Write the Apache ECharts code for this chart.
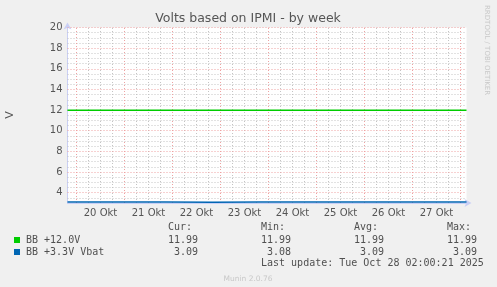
<!DOCTYPE html>
<html><head><meta charset="utf-8">
<script src="https://cdn.jsdelivr.net/npm/echarts@6/dist/echarts.min.js"></script>
<style>html,body{margin:0;padding:0;background:#f0f0f0}#c{width:497px;height:287px}</style>
</head><body><div id="c"></div>
<script>
// ---- data ----
const chartTitle = 'Volts based on IPMI - by week';
const yAxisName = 'V';
const dayLabels = ['20 Okt', '21 Okt', '22 Okt', '23 Okt', '24 Okt', '25 Okt', '26 Okt', '27 Okt'];
const yTickLabels = [4, 6, 8, 10, 12, 14, 16, 18, 20];
// hours since 20 Okt 00:00
const hours = [-4.5, 20, 44, 68, 92, 116, 140, 164, 188, 195];
const bb12 = [11.99, 11.99, 11.99, 11.99, 11.99, 11.99, 11.99, 11.99, 11.99, 11.99];
const bb33 = [3.09, 3.09, 3.09, 3.08, 3.09, 3.09, 3.09, 3.09, 3.09, 3.09];
const seriesNames = ['BB +12.0V', 'BB +3.3V Vbat'];
const colHeaders = ['Cur:', 'Min:', 'Avg:', 'Max:'];
const curVals = ['11.99', ' 3.09'];
const minVals = ['11.99', ' 3.08'];
const avgVals = ['11.99', ' 3.09'];
const maxVals = ['11.99', ' 3.09'];
const lastUpdate = 'Last update: Tue Oct 28 02:00:21 2025';
const sideText = 'RRDTOOL / TOBI OETIKER';
const footer = 'Munin 2.0.76';

// ---- styles ----
const colors = ['#00cc00', '#0066b3'];
const RED = '#eea2a2', GREY = '#c4c4c4';
const AX = '#c9cff5';
const mono = '"DejaVu Sans Mono", monospace';
const sans = '"DejaVu Sans", sans-serif';
const X_MIN = -4.5, X_MAX = 195, Y_MIN = 3, Y_MAX = 20;
const DASH = [1, 2];

// grid lines (drawn through the axes' scales via markLine)
const gridMarks = [];
for (let h = 0; h <= X_MAX; h += 6) {
  if (h % 24 !== 0) gridMarks.push({xAxis: h, lineStyle: {color: GREY, type: DASH, width: 1}});
}
for (let v = 3.5; v <= Y_MAX; v += 0.5) {
  if (v % 2 !== 0) gridMarks.push({yAxis: v, lineStyle: {color: GREY, type: DASH, width: 1}});
}
const majorMarks = [];
for (let h = 0; h <= X_MAX; h += 24) majorMarks.push({xAxis: h, lineStyle: {color: RED, type: DASH, width: 1}});
for (let v = 4; v <= Y_MAX; v += 2) majorMarks.push({yAxis: v, lineStyle: {color: RED, type: DASH, width: 1}});

const chart = echarts.init(document.getElementById('c'), null, {renderer: 'canvas'});

const graphics = [];
graphics.push({type: 'text', x: 248, y: 19, style: {text: chartTitle, font: '12.5px ' + sans, fill: '#555', align: 'center', verticalAlign: 'middle'}});
graphics.push({type: 'text', x: 10, y: 115, rotation: Math.PI / 2, style: {text: yAxisName, font: '11px ' + sans, fill: '#555', align: 'center', verticalAlign: 'middle'}});
graphics.push({type: 'text', x: 487, y: 5, rotation: -Math.PI / 2, style: {text: sideText, font: '7px ' + sans, fill: '#c8c8c8', align: 'left', verticalAlign: 'middle'}});
graphics.push({type: 'text', x: 248, y: 279, style: {text: footer, font: '7.5px ' + sans, fill: '#c8c8c8', align: 'center', verticalAlign: 'middle'}});

const colX = [168, 261, 354, 447];
const rowY = [240, 252];
colHeaders.forEach((h, i) => graphics.push({type: 'text', x: colX[i], y: 227, style: {text: h, font: '10px ' + mono, fill: '#505050', align: 'left', verticalAlign: 'middle'}}));
seriesNames.forEach((n, r) => {
  graphics.push({type: 'rect', shape: {x: 14, y: rowY[r] - 3, width: 6, height: 6}, style: {fill: colors[r]}});
  graphics.push({type: 'text', x: 26, y: rowY[r], style: {text: n, font: '10px ' + mono, fill: '#505050', align: 'left', verticalAlign: 'middle'}});
  [curVals, minVals, avgVals, maxVals].forEach((arr, c) => {
    graphics.push({type: 'text', x: colX[c], y: rowY[r], style: {text: arr[r], font: '10px ' + mono, fill: '#505050', align: 'left', verticalAlign: 'middle'}});
  });
});
graphics.push({type: 'text', x: 261, y: 263.5, style: {text: lastUpdate, font: '10px ' + mono, fill: '#505050', align: 'left', verticalAlign: 'middle'}});

chart.setOption({
  backgroundColor: '#f0f0f0',
  animation: false,
  grid: {left: 67.5, right: 30.5, top: 27.5, bottom: 84, show: true, backgroundColor: '#ffffff', borderWidth: 0},
  xAxis: {
    type: 'value', min: X_MIN, max: X_MAX, interval: 1.5,
    axisLine: {show: true, onZero: false, lineStyle: {color: AX, width: 1}, symbol: ['none', 'arrow'], symbolSize: [6, 7], symbolOffset: [0, 5]},
    axisTick: {show: false},
    axisLabel: {
      show: true, interval: 0, margin: 5, color: '#555', fontSize: 10, fontFamily: 'DejaVu Sans',
      formatter: v => { const h = v - 12; if (h >= 0 && h % 24 === 0 && dayLabels[h / 24]) return dayLabels[h / 24]; return ''; }
    },
    splitLine: {show: false}
  },
  yAxis: {
    type: 'value', min: Y_MIN, max: Y_MAX, interval: 0.5,
    axisLine: {show: true, onZero: false, lineStyle: {color: AX, width: 1}, symbol: ['none', 'arrow'], symbolSize: [6, 7], symbolOffset: [0, 5]},
    axisTick: {show: false},
    axisLabel: {
      show: true, margin: 5, color: '#555', fontSize: 10, fontFamily: 'DejaVu Sans',
      formatter: v => yTickLabels.indexOf(v) >= 0 ? String(v) : ''
    },
    splitLine: {show: false}
  },
  series: [
    {type: 'line', name: 'grid', data: [], silent: true, z: 1,
     markLine: {silent: true, symbol: ['none', 'none'], label: {show: false}, animation: false, data: gridMarks}},
    {type: 'line', name: 'mgrid', data: [], silent: true, z: 2,
     markLine: {silent: true, symbol: ['none', 'none'], label: {show: false}, animation: false, data: majorMarks}},
    {type: 'line', name: seriesNames[0], data: hours.map((h, i) => [h, bb12[i]]), showSymbol: false, lineStyle: {color: colors[0], width: 1.5}, z: 5},
    {type: 'line', name: seriesNames[1], data: hours.map((h, i) => [h, bb33[i]]), showSymbol: false, lineStyle: {color: colors[1], width: 1.5}, z: 5}
  ],
  graphic: graphics
});
</script>
</body></html>
